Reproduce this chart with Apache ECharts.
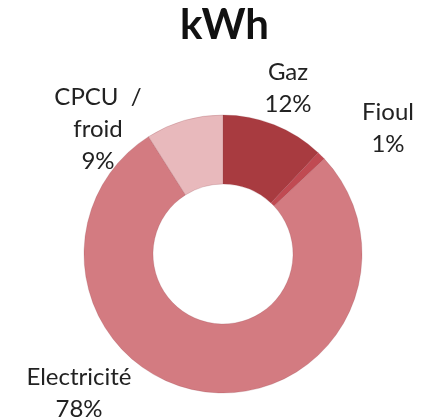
<!DOCTYPE html>
<html lang="fr" style="height: 100%">
<head>
  <meta charset="utf-8">
</head>
<body style="height: 100%; margin: 0; background: #fff">
  <div id="container" style="height: 100%"></div>

  <script type="text/javascript" src="https://fastly.jsdelivr.net/npm/echarts@6/dist/echarts.min.js"></script>

  <script type="text/javascript">
    const sources = ['Gaz', 'Fioul', 'Electricité', 'CPCU  /\nfroid'];
    const shares = [12, 1, 78, 9];
    const colors = ['#a83b40', '#c04a52', '#d37b81', '#e8b9bc'];

    // label anchor points, picked by hand to follow the original layout
    const labelSpots = [
      [288, 88],
      [388, 128],
      [79, 393],
      [98, 129]
    ];

    var dom = document.getElementById('container');
    var myChart = echarts.init(dom, null, { renderer: 'canvas' });

    var option = {
      title: {
        text: 'kWh',
        left: 180,
        top: 4,
        padding: 0,
        textStyle: {
          fontFamily: 'Lato',
          fontSize: 42,
          fontWeight: 'bold',
          color: '#111'
        }
      },
      series: [
        {
          type: 'pie',
          center: [223, 254],
          radius: [70, 139],
          startAngle: 90,
          clockwise: true,
          avoidLabelOverlap: false,
          silent: true,
          itemStyle: {
            borderColor: 'rgba(140,60,65,0.35)',
            borderWidth: 0.6
          },
          label: {
            show: true,
            position: 'outside',
            formatter: '{b}\n{d}%',
            fontFamily: 'Lato',
            fontSize: 24,
            lineHeight: 32,
            color: '#222',
            align: 'center'
          },
          labelLine: { show: false },
          labelLayout: function (params) {
            const p = labelSpots[params.dataIndex];
            return {
              x: p[0],
              y: p[1],
              align: 'center',
              verticalAlign: 'middle'
            };
          },
          data: sources.map((name, i) => ({
            name: name,
            value: shares[i],
            itemStyle: { color: colors[i] }
          }))
        }
      ]
    };

    myChart.setOption(option);
    window.addEventListener('resize', myChart.resize);
  </script>
</body>
</html>
